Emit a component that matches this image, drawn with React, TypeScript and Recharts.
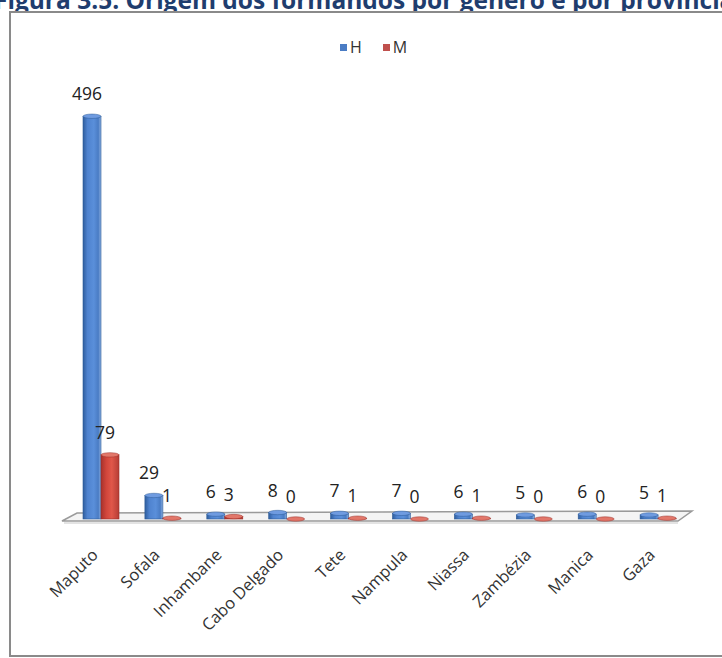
import React from "react";
import { BarChart, Bar, XAxis, YAxis, LabelList } from "recharts";

const provinces = ["Maputo", "Sofala", "Inhambane", "Cabo Delgado", "Tete", "Nampula", "Niassa", "Zambézia", "Manica", "Gaza"];
const homens = [496, 29, 6, 8, 7, 7, 6, 5, 6, 5];
const mulheres = [79, 1, 3, 0, 1, 0, 1, 0, 0, 1];
const seriesNames = ["H", "M"];
const titleText = "Figura 3.5: Origem dos formandos por género e por província";

const data = provinces.map((name, i) => ({ name, H: homens[i], M: mulheres[i] }));

const W = 722;
const H = 658;
const FONT = "'Open Sans', 'DejaVu Sans', sans-serif";

const makeShape = (gradId: string, capColor: string, edge: string) => (props: any) => {
  const { x, y, width, height } = props;
  const h = Math.max(0, height || 0);
  const cx = x + width / 2;
  return (
    <g>
      {h > 0 && <rect x={x} y={y} width={width} height={h} fill={`url(#${gradId})`} stroke={edge} strokeWidth={0.6} />}
      <ellipse cx={cx} cy={y} rx={width / 2} ry={2.2} fill={capColor} stroke={edge} strokeWidth={0.5} />
    </g>
  );
};

const renderLabel = (props: any) => {
  const { x, y, width, value } = props;
  return (
    <text x={x + width / 2 - 5} y={y - 16} textAnchor="middle" fontFamily={FONT} fontSize={17.5} fill="#222">
      {value}
    </text>
  );
};

const Tick = (props: any) => {
  const { x, y, payload } = props;
  const ax = x - 2;
  const ay = y + 29;
  return (
    <text x={ax} y={ay} textAnchor="end" transform={`rotate(-45, ${ax}, ${ay})`} fontFamily={FONT} fontSize={16.5} fill="#333">
      {payload.value}
    </text>
  );
};

export default function App() {
  return (
    <div style={{ position: "absolute", left: 0, top: 0, width: W, height: H, overflow: "hidden", background: "#fff" }}>
      <svg width={W} height={H} style={{ position: "absolute", left: 0, top: 0 }}>
        <text x={-6} y={9} fontFamily={FONT} fontWeight="bold" fontSize={24.5} fill="#1F3D6E">
          {titleText}
        </text>
        <rect x={10} y={12} width={740} height={644} fill="#fff" stroke="#8a8a8a" strokeWidth={2} />
        <polygon points="77,513 692,511 678,521 62,521" fill="#f4f4f4" stroke="#9a9a9a" strokeWidth={1.5} />
        <line x1={64} y1={523} x2={678} y2={523} stroke="#c8c8c8" strokeWidth={1} />
      </svg>
      <div style={{ position: "absolute", left: 340, top: 37, display: "flex", alignItems: "center", fontFamily: FONT, fontSize: 16, color: "#333", lineHeight: "20px" }}>
        <span style={{ display: "inline-block", width: 7, height: 7, background: "#4a7cc4", marginRight: 3 }} />
        <span style={{ marginRight: 21 }}>{seriesNames[0]}</span>
        <span style={{ display: "inline-block", width: 7, height: 7, background: "#c0504d", marginRight: 3 }} />
        <span>{seriesNames[1]}</span>
      </div>
      <div style={{ position: "absolute", left: 0, top: 0 }}>
        <BarChart width={W} height={H} data={data} margin={{ top: 113, right: 33, left: 70, bottom: 39 }} barGap={0} barSize={18}>
          <defs>
            <linearGradient id="gH" x1="0" y1="0" x2="1" y2="0">
              <stop offset="0%" stopColor="#2f5e9e" />
              <stop offset="25%" stopColor="#4f83cf" />
              <stop offset="60%" stopColor="#5a8fda" />
              <stop offset="85%" stopColor="#4a7cc4" />
              <stop offset="100%" stopColor="#8fb2e2" />
            </linearGradient>
            <linearGradient id="gM" x1="0" y1="0" x2="1" y2="0">
              <stop offset="0%" stopColor="#a8322c" />
              <stop offset="30%" stopColor="#d2463c" />
              <stop offset="60%" stopColor="#e0574a" />
              <stop offset="100%" stopColor="#b53d35" />
            </linearGradient>
          </defs>
          <XAxis dataKey="name" axisLine={false} tickLine={false} interval={0} height={100} tick={<Tick />} />
          <YAxis hide domain={[0, 500]} />
          <Bar dataKey="H" isAnimationActive={false} shape={makeShape("gH", "#6f9be0", "#2d5a96")}>
            <LabelList dataKey="H" content={renderLabel} />
          </Bar>
          <Bar dataKey="M" isAnimationActive={false} shape={makeShape("gM", "#e2776a", "#9a2e28")}>
            <LabelList dataKey="M" content={renderLabel} />
          </Bar>
        </BarChart>
      </div>
    </div>
  );
}
